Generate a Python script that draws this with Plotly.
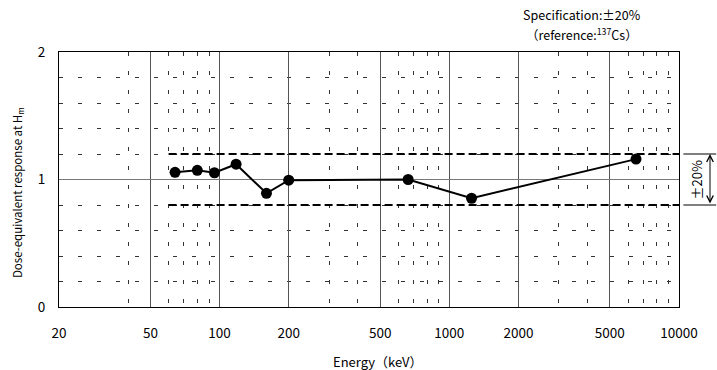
import plotly.graph_objects as go

# ---- data ----
energy_kev = [64, 80, 95, 118, 160, 200, 662, 1250, 6500]
response = [1.056, 1.072, 1.053, 1.12, 0.892, 0.995, 1.0, 0.853, 1.16]

spec_energy = [60, 10000]
spec_upper = [1.2, 1.2]
spec_lower = [0.8, 0.8]

x_tick_vals = [20, 50, 100, 200, 500, 1000, 2000, 5000, 10000]
x_tick_text = ["20", "50", "100", "200", "500", "1000", "2000", "5000", "10000"]
x_minor_vals = [40, 60, 70, 80, 90, 300, 400, 600, 700, 800, 900, 3000, 4000, 6000, 7000, 8000, 9000]
y_tick_vals = [0, 1, 2]
y_minor_vals = [0.2, 0.4, 0.6, 0.8, 1.2, 1.4, 1.6, 1.8]

FONT = "Noto Sans CJK JP"

fig = go.Figure()

fig.add_trace(go.Scatter(x=spec_energy, y=spec_upper, mode="lines",
                         line=dict(color="black", width=2, dash="8px,4px"),
                         hoverinfo="skip", showlegend=False))
fig.add_trace(go.Scatter(x=spec_energy, y=spec_lower, mode="lines",
                         line=dict(color="black", width=2, dash="8px,4px"),
                         hoverinfo="skip", showlegend=False))
fig.add_trace(go.Scatter(x=energy_kev, y=response, mode="lines+markers",
                         line=dict(color="black", width=2),
                         marker=dict(color="black", size=11),
                         showlegend=False))

fig.update_xaxes(type="log", range=[1.30103, 4.0],
                 tickmode="array", tickvals=x_tick_vals, ticktext=x_tick_text,
                 showgrid=True, gridcolor="#555555", gridwidth=1,
                 showline=True, linecolor="black", linewidth=1, mirror=True,
                 ticks="", ticklabelstandoff=14,
                 tickfont=dict(family=FONT, size=13.5, color="black"),
                 minor=dict(tickmode="array", tickvals=x_minor_vals, showgrid=True,
                            gridcolor="#333333", gridwidth=1, griddash="4px,15px", ticks=""),
                 zeroline=False)
fig.update_yaxes(range=[0, 2], tickmode="array", tickvals=y_tick_vals,
                 showgrid=True, gridcolor="#777777", gridwidth=1,
                 showline=True, linecolor="black", linewidth=1, mirror=True,
                 ticks="", ticklabelstandoff=10,
                 tickfont=dict(family=FONT, size=13.5, color="black"),
                 minor=dict(tickmode="array", tickvals=y_minor_vals, showgrid=True,
                            gridcolor="#333333", gridwidth=1, griddash="4px,15px", ticks=""),
                 zeroline=False)

annotations = [
    dict(text="Dose-equivalent response at H<sub>m</sub>", xref="paper", yref="paper",
         x=-0.068, y=0.45, textangle=-90, showarrow=False,
         font=dict(family=FONT, size=11.5, color="black"), xanchor="center", yanchor="middle"),
    dict(text="Energy（keV）", xref="paper", yref="paper", x=0.513, y=-0.215,
         showarrow=False, font=dict(family=FONT, size=13, color="black"),
         xanchor="center", yanchor="middle"),
    dict(text="Specification:±20%", xref="paper", yref="paper",
         x=0.843, y=1.149, showarrow=False, font=dict(family=FONT, size=12.5, color="black"),
         xanchor="center", yanchor="middle"),
    dict(text="（reference:<sup>137</sup>Cs）", xref="paper", yref="paper",
         x=0.843, y=1.068, showarrow=False, font=dict(family=FONT, size=12.5, color="black"),
         xanchor="center", yanchor="middle"),
    dict(text="±20%", xref="paper", yref="y", x=1.029, y=1.0, textangle=-90,
         showarrow=False, font=dict(family=FONT, size=13, color="black"),
         xanchor="center", yanchor="middle"),
    dict(text="", xref="paper", yref="y", x=1.05, y=1.2, axref="pixel", ayref="pixel",
         ax=0, ay=51, showarrow=True, arrowhead=5, startarrowhead=5, arrowside="end+start",
         arrowwidth=1, arrowsize=1.3, startarrowsize=1.3, arrowcolor="black"),
]

shapes = [
    dict(type="line", xref="paper", yref="y", x0=1.007, x1=1.06, y0=1.2, y1=1.2,
         line=dict(color="black", width=1)),
    dict(type="line", xref="paper", yref="y", x0=1.007, x1=1.06, y0=0.8, y1=0.8,
         line=dict(color="black", width=1)),
]

fig.update_layout(width=717, height=370,
                  margin=dict(l=59, r=38, t=52, b=63),
                  plot_bgcolor="white", paper_bgcolor="white",
                  annotations=annotations, shapes=shapes,
                  font=dict(family=FONT, size=12, color="black"))

fig.write_html("out.html", config={"displayModeBar": False},
               post_script="document.body.style.margin='0';")
